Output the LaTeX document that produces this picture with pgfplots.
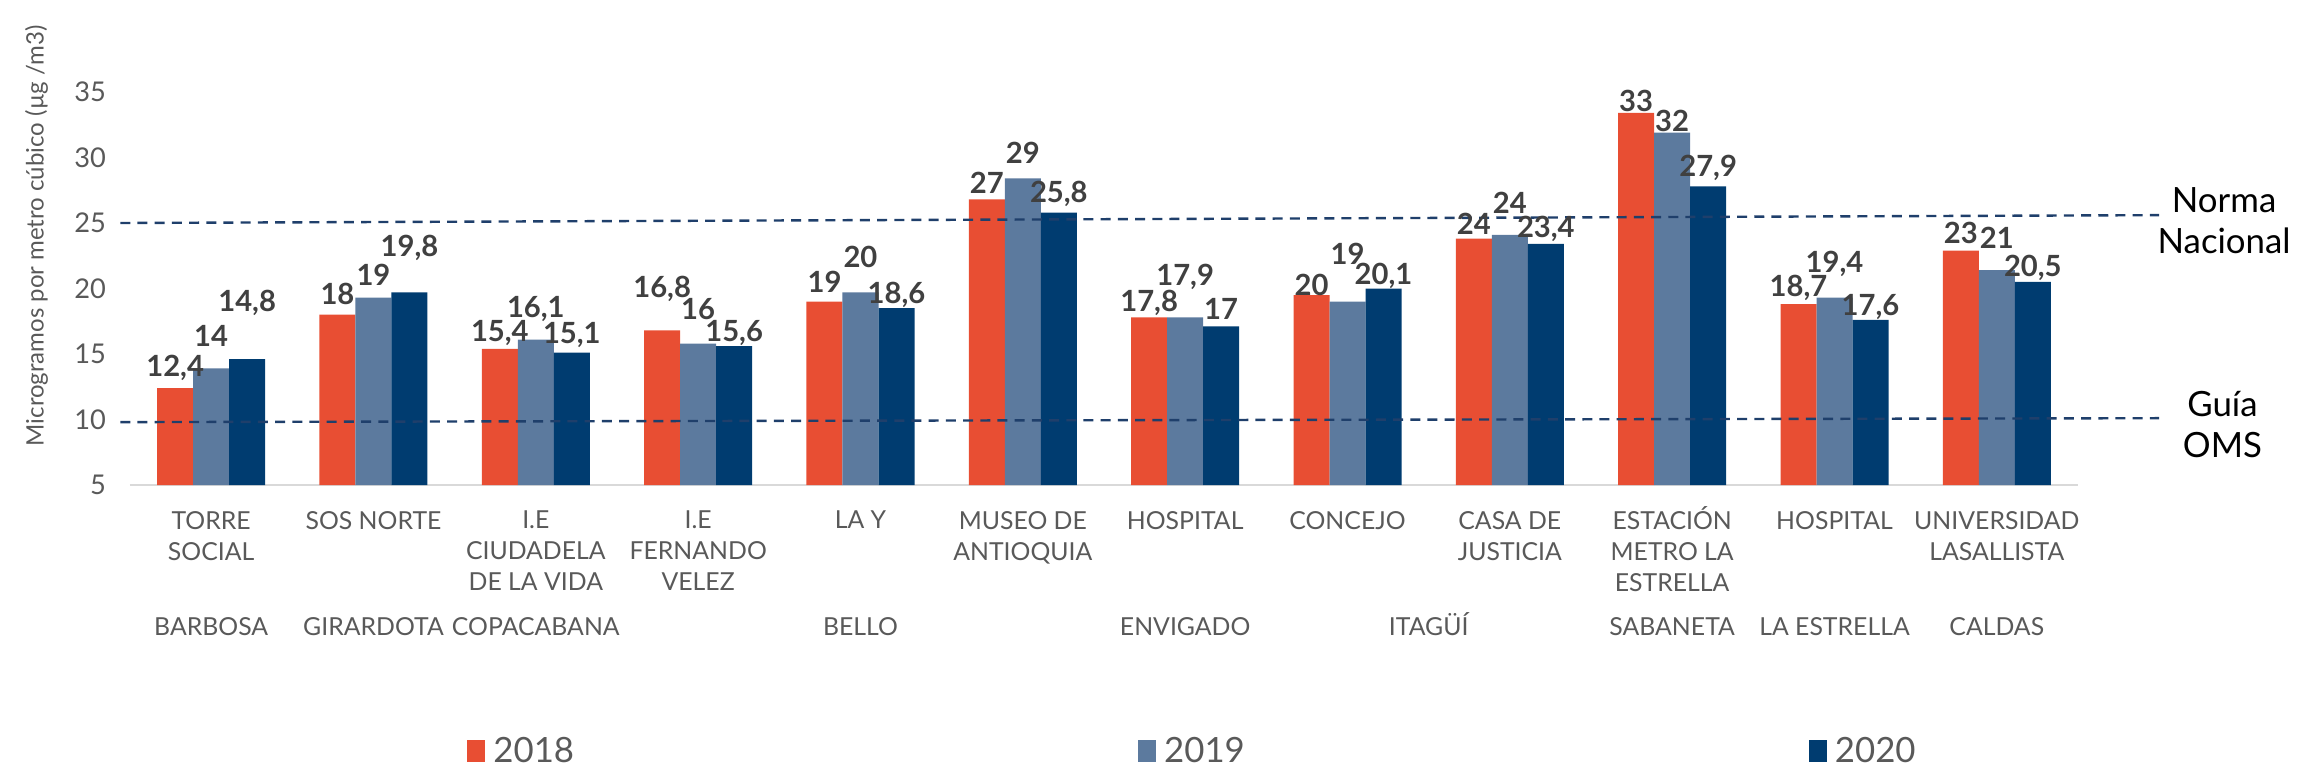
\documentclass[border=0pt]{standalone}
\usepackage{fontspec}
\setmainfont{Lato}
\usepackage{pgfplots}
\pgfplotsset{compat=1.18}
\usepackage{pgfplotstable}

\definecolor{c18}{HTML}{E84E33}
\definecolor{c19}{HTML}{5C7A9E}
\definecolor{c20}{HTML}{003C70}
\definecolor{refline}{HTML}{1F3F6B}
\definecolor{ticktxt}{HTML}{595959}
\definecolor{labtxt}{HTML}{404040}
\definecolor{sepgray}{HTML}{D9D9D9}

% x  bar value  label  label offset (pt)
\pgfplotstableread{
x y lbl dy
0 12.4 12,4 5
1 18.0 18 5.25
2 15.4 15,4 4
3 16.8 16,8 10.5
4 19.0 19 5
5 26.8 27 4.25
6 17.8 17,8 3.5
7 19.5 20 2.5
8 23.8 24 3.75
9 33.4 33 3
10 18.8 18,7 4
11 22.9 23 4.5
}\dataA

\pgfplotstableread{
x y lbl dy
0 13.9 14 8
1 19.3 19 5.75
2 16.1 16,1 7.75
3 15.8 16 8.5
4 19.7 20 8.75
5 28.4 29 6.5
6 17.8 17,9 10
7 19.0 19 12
8 24.1 24 8
9 31.9 32 3
10 19.3 19,4 8.5
11 21.4 21 8
}\dataB

\pgfplotstableread{
x y lbl dy
0 14.6 14,8 14
1 19.7 19,8 11.25
2 15.1 15,1 4.5
3 15.6 15,6 3.25
4 18.5 18,6 3.25
5 25.8 25,8 4.75
6 17.1 17 4.5
7 20.0 20,1 3.25
8 23.4 23,4 3.75
9 27.8 27,9 4.5
10 17.6 17,6 3.25
11 20.5 20,5 3.5
}\dataC

\pgfplotsset{
  barlab/.style={
    point meta=explicit symbolic,
    visualization depends on={\thisrow{dy} \as \labdy},
    nodes near coords,
    nodes near coords style={anchor=center, xshift=#1, yshift=\labdy pt,
      font=\fontsize{7.3}{8}\selectfont\bfseries, text=labtxt},
  },
}

\begin{document}
\begin{tikzpicture}
\useasboundingbox (-32.5pt,-74.25pt) rectangle (543.75pt,121.25pt);
\begin{axis}[
  scale only axis, width=487pt, height=104.8pt,
  xmin=-0.5, xmax=11.5, ymin=5, ymax=37,
  clip=false,
  axis x line*=bottom, axis y line*=left,
  x axis line style={-, draw=sepgray, line width=0.7pt},
  y axis line style={draw=none},
  tick align=inside,
  major tick length=40pt,
  ytick={5,10,...,35},
  ytick style={draw=none},
  yticklabel style={font=\fontsize{6.8}{8}\selectfont, text=ticktxt, xshift=-2.5pt},
  /pgf/number format/assume math mode=true,
  xtick={0,...,11},
  xtick style={draw=none},
  xticklabels={{TORRE\\SOCIAL},{SOS NORTE},{I.E\\CIUDADELA\\DE LA VIDA},{I.E\\FERNANDO\\VELEZ},{LA Y},{MUSEO DE\\ANTIOQUIA},{HOSPITAL},{CONCEJO},{CASA DE\\JUSTICIA},{ESTACI\smash{Ó}N\\METRO LA\\ESTRELLA},{HOSPITAL},{UNIVERSIDAD\\LASALLISTA}},
  xticklabel style={align=center, font=\fontsize{6.2}{7.75}\selectfont, text=ticktxt, yshift=-3pt},
  extra x ticks={-0.5,0.5,1.5,2.5,5.5,6.5,8.5,9.5,10.5,11.5},
  extra x tick labels={},
  extra x tick style={tick align=outside, tick style={draw=sepgray, line width=0.7pt}},
  ylabel={Microgramos por metro cúbico (µg /m3)},
  every axis y label/.style={at={(axis description cs:-0.048,0.594)}, rotate=90, anchor=center,
    font=\fontsize{6}{7}\selectfont, text=ticktxt},
  legend columns=3,
  legend style={at={(axis description cs:0.547,-0.64)}, anchor=center, draw=none, fill=none,
    font=\fontsize{8.7}{10}\selectfont, text=ticktxt,
    /tikz/every even column/.append style={column sep=139pt}},
  legend image code/.code={\fill[#1] (0pt,-2.2pt) rectangle (4.5pt,3.3pt);},
]
\addplot[ybar, bar width=9pt, bar shift=-9pt, fill=c18, draw=none, barlab=-9pt]
  table[x=x, y=y, meta=lbl]{\dataA};
\addlegendentry{2018}
\addplot[ybar, bar width=9pt, bar shift=0pt, fill=c19, draw=none, barlab=0pt]
  table[x=x, y=y, meta=lbl]{\dataB};
\addlegendentry{2019}
\addplot[ybar, bar width=9pt, bar shift=9pt, fill=c20, draw=none, barlab=9pt]
  table[x=x, y=y, meta=lbl]{\dataC};
\addlegendentry{2020}

% reference lines
\addplot[refline, line width=0.6pt, dash pattern=on 2.5pt off 1.8pt, sharp plot, forget plot]
  coordinates {(-0.56,25) (12,25.6)};
\addplot[refline, line width=0.6pt, dash pattern=on 2.5pt off 1.8pt, sharp plot, forget plot]
  coordinates {(-0.56,9.8) (12,10.1)};

\node[font=\fontsize{8.7}{10.25}\selectfont, align=center] at (axis cs:12.4,25.2) {Norma\\Nacional};
\node[font=\fontsize{8.7}{10.25}\selectfont, align=center] at (axis cs:12.39,9.65) {Guía\\OMS};

% municipality row
\begin{scope}[every node/.style={font=\fontsize{6.2}{7}\selectfont, text=ticktxt, anchor=base, yshift=-37.5pt}]
\node at (axis cs:0,5) {BARBOSA};
\node at (axis cs:1,5) {GIRARDOTA};
\node at (axis cs:2,5) {COPACABANA};
\node at (axis cs:4,5) {BELLO};
\node at (axis cs:6,5) {ENVIGADO};
\node at (axis cs:7.5,5) {ITAGÜÍ};
\node at (axis cs:9,5) {SABANETA};
\node at (axis cs:10,5) {LA ESTRELLA};
\node at (axis cs:11,5) {CALDAS};
\end{scope}
\end{axis}
\end{tikzpicture}
\end{document}
